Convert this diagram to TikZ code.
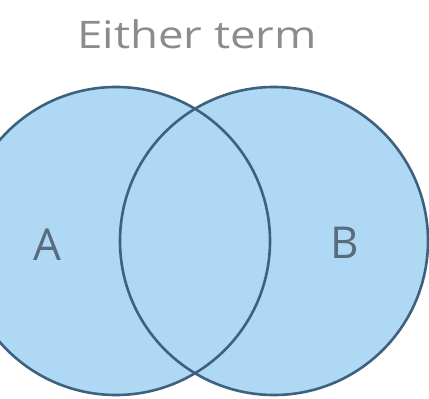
\documentclass[tikz,border=0pt]{standalone}
\usepackage{fontspec}
\setmainfont{Open Sans}
\definecolor{fillblue}{RGB}{174,216,244}
\definecolor{edgeblue}{RGB}{62,98,126}
\definecolor{titlegray}{RGB}{140,140,140}
\definecolor{labelgray}{RGB}{88,108,125}
\tikzset{
  setcircle/.style={circle, draw=edgeblue, line width=2.6pt, minimum size=308pt, inner sep=0pt},
  setlabel/.style={text=labelgray, font=\fontsize{44}{44}\selectfont, inner sep=0pt},
  titletext/.style={text=titlegray, font=\fontsize{38}{38}\selectfont, inner sep=0pt}
}
\begin{document}
\begin{tikzpicture}[x=1pt,y=-1pt]
\useasboundingbox (0,0) rectangle (429,399);
\fill[white] (0,0) rectangle (429,399);
\begin{scope}
\clip (0,0) rectangle (429,399);
\fill[fillblue] (116,241) circle (154);
\fill[fillblue] (274,241) circle (154);
\node[setcircle] (setA) at (116,241) {};
\node[setcircle] (setB) at (274,241) {};
\end{scope}
\node[titletext, xscale=1.2] (title) at (197,34) {Either term};
\node[setlabel] (labA) at (47,245) {A};
\node[setlabel] (labB) at (345,243) {B};
\end{tikzpicture}
\end{document}
